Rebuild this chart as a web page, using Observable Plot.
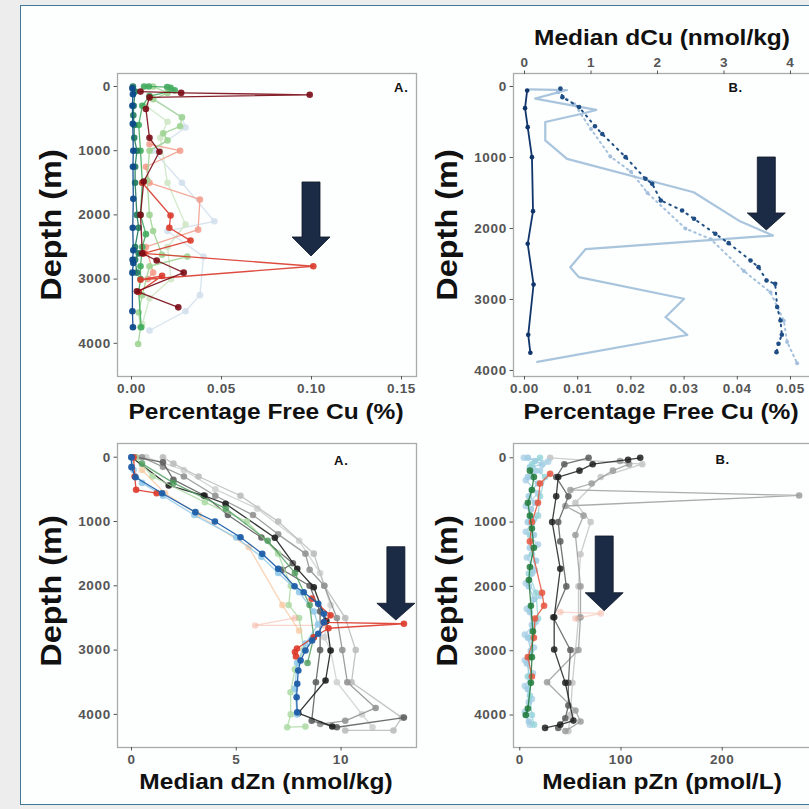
<!DOCTYPE html>
<html><head><meta charset="utf-8">
<script src="https://cdn.jsdelivr.net/npm/d3@7"></script>
<script src="https://cdn.jsdelivr.net/npm/@observablehq/plot@0.6"></script>
<style>
html,body{margin:0;padding:0;background:#ededee;}
#page{position:relative;width:809px;height:809px;overflow:hidden;background:#ededee;font-family:"Liberation Sans",Arial,sans-serif;}
#frame{position:absolute;left:20px;top:5px;width:800px;height:798px;border:1.5px solid #3f7896;background:#fdfefe;}
.panel{position:absolute;}
.lab{position:absolute;font-weight:bold;color:#111;white-space:nowrap;line-height:1;}
.xlab{font-size:21.5px;transform:translate(-50%,-50%) scaleX(1.14);}
.ylab{font-size:29px;transform:translate(-50%,-50%) rotate(-90deg) scaleX(1.12);}
</style></head><body>
<div id="page"><div id="frame"></div></div>
<script>
// ---------- shared ticks ----------
const depthTicks = [0, 1000, 2000, 3000, 4000];
const A_xTicks = [0, 0.05, 0.10, 0.15];
const B_xTicks = [0, 0.01, 0.02, 0.03, 0.04, 0.05];
const B_dCuTicks = [0, 1, 2, 3, 4];
const B_dCuPerPct = 80;          // secondary axis: dCu (nmol/kg) per % free Cu
const C_xTicks = [0, 5, 10];
const D_xTicks = [0, 100, 200];

// ---------- Panel A: [depth (m), % free Cu] ----------
const A_paleBlue = [[150,0.010],[480,0.028],[640,0.030],[1000,0.012],[1500,0.028],[2100,0.046],[2250,0.020],[2650,0.040],[3250,0.038],[3500,0.030],[3800,0.010]];
const A_paleGreen = [[300,0.008],[550,0.020],[800,0.016],[1500,0.020],[2150,0.030],[2500,0.020],[3000,0.022],[3300,0.010],[3700,0.006]];
const A_lightRed = [[900,0.010],[1000,0.027],[1250,0.008],[1500,0.010],[1760,0.038],[2230,0.037],[2500,0.008],[2900,0.012],[3000,0.009]];
const A_lightGreen = [[0,0.012],[100,0.020],[200,0.012],[480,0.028],[620,0.027],[730,0.0176],[840,0.020],[1000,0.010],[1460,0.0087],[2000,0.010],[2250,0.012],[2620,0.017],[2650,0.031],[2800,0.010],[3250,0.006],[3520,0.004],[3750,0.005],[4010,0.0037]];
const A_green = [[0,0.007],[0,0.0096],[10,0.0198],[20,0.0217],[60,0.024],[150,0.010],[300,0.006],[600,0.004],[1000,0.005],[1500,0.006],[2000,0.005],[2300,0.008],[2500,0.006],[2800,0.005],[3000,0.005],[3200,0.004],[3750,0.0054]];
const A_teal = [[0,0.0008],[80,0.002],[300,0.0012],[450,0.001],[600,0.0015],[800,0.0015],[1000,0.003],[1250,0.002],[1500,0.002],[2000,0.003],[2200,0.004],[2500,0.002],[2600,0.004],[2700,0.002],[2900,0.003]];
const A_red = [[1500,0.006],[2010,0.0217],[2200,0.021],[2400,0.0328],[2600,0.0068],[2800,0.101],[3010,0.005],[2950,0.017],[3200,0.004]];
const A_darkRed = [[80,0.005],[100,0.0276],[130,0.099],[170,0.010],[350,0.008],[800,0.010],[1017,0.0155],[1480,0.0068],[2000,0.005],[2600,0.006],[2710,0.014],[2900,0.029],[3190,0.003],[3440,0.026]];
const A_navy = [[30,0.0005],[120,0.0008],[300,0.0005],[580,0.0007],[1000,0.001],[1250,0.0008],[1750,0.001],[2200,0.0007],[2550,0.001],[2700,0.0006],[2750,0.001],[2900,0.0005],[3500,0.0005],[3750,0.0008]];
const A_arrow = [0.10, 1495, 2352, 2648];   // x, shaft top, head base, tip (depth)

// ---------- Panel B ----------
const B_freeCuLine = [[40,0.001],[50,0.008],[80,0.0065],[170,0.002],[330,0.0135],[380,0.011],[500,0.0039],[760,0.0039],[1020,0.008],[1490,0.0318],[1890,0.0403],[2100,0.0467],[2290,0.0115],[2545,0.0086],[2685,0.0102],[2990,0.030],[3250,0.0265],[3500,0.0306],[3880,0.0024]];
const B_freeCuMedian = [[56,0.0005],[305,0.0001],[573,0.0006],[995,0.0014],[1756,0.0016],[2216,0.0006],[2789,0.0017],[3498,0.0007],[3751,0.0011]];
const B_dCuLight = [[80,0.50],[250,0.75],[600,1.00],[985,1.29],[1200,1.60],[1500,1.85],[2000,2.42],[2150,2.80],[2600,3.30],[2900,3.70],[3300,3.90],[3600,3.95],[3897,4.10]];
const B_dCu = [[30,0.54],[150,0.57],[290,0.82],[560,1.06],[670,1.17],[995,1.52],[1300,1.82],[1370,1.92],[1605,2.05],[1746,2.37],[1864,2.55],[2075,2.87],[2207,3.07],[2451,3.40],[2545,3.52],[2732,3.64],[2779,3.77],[3107,3.80],[3296,3.85],[3497,3.87],[3624,3.82],[3742,3.79]];
const B_arrow = [0.04555, 1000, 1789, 2028];

// ---------- Panel C: [depth, dZn] ----------
const C_lgray2 = [[0,0.7],[200,2.5],[500,4.0],[800,6.0],[1300,8.0],[1800,9.0],[2300,9.5],[2800,9.2],[3000,9.5],[3500,9.8],[4000,11.0],[4200,11.5]];
const C_lgray = [[0,1.5],[100,2.0],[300,3.2],[600,5.2],[1000,7.0],[1500,8.7],[2000,9.2],[2500,10.2],[3000,10.7],[3500,10.5],[4050,12.9],[4250,12.5],[4250,10.2]];
const C_gray = [[0,0.5],[150,1.5],[300,2.5],[600,4.0],[900,5.8],[1200,7.0],[1500,8.3],[1750,8.5],[2000,9.2],[2500,9.8],[3000,10.06],[3500,10.3],[3900,11.65],[4100,10.2],[4150,9.0]];
const C_dgray = [[0,0.2],[80,1.5],[350,2.0],[600,3.5],[900,4.6],[1250,6.2],[1650,7.7],[1750,7.2],[2000,8.5],[2400,9.0],[3000,9.0],[3500,8.8],[4100,8.6],[4200,9.8],[4050,13.0]];
const C_black = [[0,0],[440,1.78],[596,3.45],[725,4.49],[1253,6.84],[1736,7.91],[2022,8.7],[2550,9.3],[3006,9.5],[3473,9.26],[3981,7.96],[4188,9.58]];
const C_lightGreen = [[0,0.2],[300,1.0],[700,3.5],[1000,5.5],[1500,7.0],[2000,7.6],[2300,7.5],[2500,8.0],[3000,8.22],[3300,7.8],[3655,7.59],[4000,7.6],[4199,7.43],[4190,8.3]];
const C_orange = [[200,0.5],[560,1.6],[900,3.2],[1400,5.6],[2300,7.2],[2700,8.0]];
const C_lightRed = [[2500,7.8],[2617,5.9],[2617,9.2]];
const C_lightBlue = [[0,0],[200,0.1],[400,0.5],[600,1.5],[900,3.0],[1250,5.0],[1550,6.2],[1800,7.0],[2100,8.0],[2400,8.7],[2600,8.9],[2900,8.3],[3200,7.9],[3600,7.8],[4000,7.9]];
const C_green = [[100,0.5],[400,2.0],[800,4.5],[1300,6.5],[1800,7.8],[2300,8.5],[2800,8.7],[3200,8.4]];
const C_redTop = [[0,0.1],[300,0.15],[507,0.22],[560,1.2]];
const C_red = [[2200,8.6],[2460,9.5],[2570,9.18],[2590,13.0],[2660,9.4],[2800,8.7],[2975,7.9],[3030,7.8],[3100,7.85]];
const C_blue = [[0,0],[155,0],[311,0.19],[560,1.46],[855,3.05],[1000,3.98],[1244,5.2],[1503,6.24],[1736,7.0],[2006,7.78],[2100,8.22],[2280,8.91],[2436,9.18],[2566,9.18],[2747,8.91],[2851,8.62],[3006,8.3],[3162,8.07],[3317,7.96],[3524,7.91],[3733,7.88],[3966,7.91]];
const C_arrow = [12.64, 1400, 2280, 2540];

// ---------- Panel D: [depth, pZn] ----------
const D_lblue = [[0,8],[50,15],[100,22],[150,10],[200,14],[300,8],[400,18],[500,12],[600,9],[700,15],[800,11],[1000,8],[1200,14],[1400,10],[1600,16],[1800,12],[2000,9],[2200,14],[2400,10],[2600,12],[2800,8],[3000,11],[3200,7],[3400,10],[3600,8],[3800,9],[4000,6],[4100,9]];
const D_lblue2 = [[0,20],[100,12],[300,25],[600,20],[900,18],[1200,10],[1500,12],[1800,9],[2100,16],[2500,18],[2800,12],[3100,10],[3400,8],[3700,10],[4000,12],[4150,14]];
const D_lblue3 = [[0,4],[60,28],[200,20],[350,6],[550,18],[750,6],[950,14],[1150,6],[1350,18],[1550,7],[1750,15],[1950,6],[2150,20],[2350,7],[2550,16],[2750,5],[2950,14],[3150,5],[3350,13],[3550,5],[3750,12],[3950,5],[4150,10]];
const D_lightRed = [[2400,40],[2420,80],[2500,55]];
const D_red = [[250,30],[400,20],[700,18],[1000,12],[1300,10],[2100,22],[2300,24],[2500,15],[2800,14],[3100,8],[3400,12]];
const D_green = [[200,10],[300,14],[500,12],[700,8],[900,10],[1100,12],[1400,14],[1700,10],[1900,9],[2300,11],[2700,13],[3100,12],[3500,11],[3900,8],[4000,6]];
const D_lgray = [[0,30],[100,121],[300,80],[700,55],[1000,70],[1500,60],[2000,58],[2500,58],[3000,55],[3500,52],[4000,50],[4250,48]];
const D_gray = [[50,99],[100,108],[200,92],[400,71],[500,50],[586,276],[750,45],[900,63],[1200,55],[2000,60],[2480,60],[2990,58],[3490,27],[3930,55],[4100,60],[4250,45]];
const D_dgray = [[0,68],[100,44],[300,36],[600,48],[1000,38],[1300,40],[2000,46],[2480,33],[2990,50],[3500,48],[3852,48],[4050,45],[4200,38]];
const D_black = [[0,119],[30,107],[100,72],[200,59],[300,38],[600,36],[1000,32],[1727,40],[2480,34],[2982,34],[3500,45],[4087,53],[4150,40],[4200,25]];
const D_arrow = [83.9, 1224, 2106, 2386];

// ---------- styles (kept apart from data) ----------
const A_layers = [
  [A_paleBlue, "#d3e0ec", 0.9], [A_paleGreen, "#cfe8c6", 0.9], [A_lightRed, "#f29a88", 0.85],
  [A_lightGreen, "#9fd494", 0.9], [A_green, "#41ab5d", 0.9], [A_teal, "#1f7a5c", 0.9],
  [A_red, "#d93a2b", 0.9], [A_darkRed, "#7a0b16", 0.9], [A_navy, "#0d4a8c", 0.95]
];
const C_layers = [
  [C_lgray2, "#d2d2d2", 0.9], [C_lgray, "#bdbdbd", 0.9], [C_gray, "#939393", 0.9], [C_dgray, "#606060", 0.9],
  [C_black, "#1e1e1e", 0.9], [C_lightGreen, "#addba5", 0.85], [C_orange, "#f7c59a", 0.7], [C_lightRed, "#f3a58f", 0.45],
  [C_lightBlue, "#8ec8e8", 0.85], [C_green, "#4b9a5a", 0.8], [C_redTop, "#dd3a2a", 0.9], [C_red, "#dd3a2a", 0.9], [C_blue, "#1d5ea8", 0.95]
];
const D_layers = [
  [D_lgray, "#c6c6c6", 0.9], [D_gray, "#9c9c9c", 0.85], [D_dgray, "#5a5a5a", 0.85], [D_black, "#1e1e1e", 0.85],
  [D_lblue3, "#a9cfe6", 0.8], [D_lblue, "#9fcbe3", 0.85], [D_lblue2, "#94d3d8", 0.8], [D_lightRed, "#f6b4a0", 0.5], [D_red, "#e5533d", 0.85], [D_green, "#1e7a3a", 0.85]
];

function arrowMark(arrow) {
  return (index, scales) => {
    const [xv, top, base, tip] = arrow;
    const cx = scales.x(xv), y0 = scales.y(top), y1 = scales.y(base), y2 = scales.y(tip);
    const sw = 9, hw = 19;
    const d = `M${cx - sw},${y0}H${cx + sw}V${y1}H${cx + hw}L${cx},${y2}L${cx - hw},${y1}H${cx - sw}Z`;
    return d3.create("svg:path").attr("d", d).attr("fill", "#1b2b45").attr("stroke", "#0e1626").attr("stroke-width", 0.8).node();
  };
}

function layerMarks(layers, r, lw, factor = 1) {
  const marks = [];
  for (const [data, color, op] of layers) {
    const rows = data.map(([depth, v]) => ({depth, v: v * factor}));
    marks.push(Plot.line(rows, {x: "v", y: "depth", stroke: color, strokeOpacity: op, strokeWidth: lw}));
    marks.push(Plot.dot(rows, {x: "v", y: "depth", r, fill: color, fillOpacity: op, stroke: "none"}));
  }
  return marks;
}

function makePanel(o) {
  const chart = Plot.plot({
    width: o.width, height: o.height,
    marginTop: o.mt, marginRight: o.mr, marginBottom: o.mb, marginLeft: o.ml,
    x: {domain: o.xDomain},
    y: {domain: o.yDomain, reverse: true},
    style: {fontFamily: "'Liberation Sans', Arial, sans-serif", fontSize: "13.5px", fontWeight: "bold", color: "#555", background: "transparent", overflow: "visible", letterSpacing: "0.7px"},
    marks: [
      Plot.frame({stroke: "#aaaaaa", strokeWidth: 1.3}),
      Plot.axisY({ticks: depthTicks, tickFormat: d => String(d), tickSize: 3.5, tickPadding: 3, label: null}),
      Plot.axisX({ticks: o.xTicks, tickFormat: o.xFormat, tickSize: 3.5, tickPadding: 3, label: null}),
      ...(o.extra || []),
      arrowMark(o.arrow),
      Plot.text([o.tag], {frameAnchor: o.tagAnchor, dx: o.tagDx, dy: o.tagDy, text: d => d, fill: "#111", fontSize: 13, fontWeight: "bold", lineAnchor: "middle", textAnchor: o.tagTextAnchor})
    ]
  });
  chart.classList.add("panel");
  chart.style.left = o.left + "px";
  chart.style.top = o.top + "px";
  document.getElementById("page").appendChild(chart);
}

const f2 = d3.format(".2f");

makePanel({
  left: 30, top: 20, width: 390, height: 380, mt: 53, mr: 4, mb: 24, ml: 87,
  xDomain: [-0.00778, 0.15833], yDomain: [-202, 4517], xTicks: A_xTicks, xFormat: f2,
  extra: layerMarks(A_layers, 3.3, 1.3), arrow: A_arrow,
  tag: "A.", tagAnchor: "top-right", tagDx: -8, tagDy: 14, tagTextAnchor: "end"
});

makePanel({
  left: 430, top: 20, width: 382, height: 380, mt: 53, mr: 0, mb: 24, ml: 83,
  xDomain: [-0.00207, 0.05414], yDomain: [-183, 4085], xTicks: B_xTicks, xFormat: f2,
  extra: [
    Plot.axisX({anchor: "top", ticks: B_dCuTicks.map(v => v / B_dCuPerPct), tickFormat: d => String(Math.round(d * B_dCuPerPct)), tickSize: 3.5, tickPadding: 3, label: null}),
    Plot.line(B_freeCuLine.map(([depth, v]) => ({depth, v})), {x: "v", y: "depth", stroke: "#a9c5dd", strokeWidth: 2.2}),
    Plot.line(B_dCuLight.map(([depth, v]) => ({depth, v: v / B_dCuPerPct})), {x: "v", y: "depth", stroke: "#a4c0dc", strokeWidth: 2, strokeDasharray: "1.5,4", strokeLinecap: "round"}),
    Plot.dot(B_dCuLight.map(([depth, v]) => ({depth, v: v / B_dCuPerPct})), {x: "v", y: "depth", r: 2, fill: "#a4c0dc"}),
    Plot.line(B_dCu.map(([depth, v]) => ({depth, v: v / B_dCuPerPct})), {x: "v", y: "depth", stroke: "#1f4e85", strokeWidth: 2, strokeDasharray: "1.5,5", strokeLinecap: "round"}),
    Plot.dot(B_dCu.map(([depth, v]) => ({depth, v: v / B_dCuPerPct})), {x: "v", y: "depth", r: 2.3, fill: "#1f4e85"}),
    Plot.line(B_freeCuMedian.map(([depth, v]) => ({depth, v})), {x: "v", y: "depth", stroke: "#10356b", strokeWidth: 1.8}),
    Plot.dot(B_freeCuMedian.map(([depth, v]) => ({depth, v})), {x: "v", y: "depth", r: 2.3, fill: "#10356b"})
  ],
  arrow: B_arrow,
  tag: "B.", tagAnchor: "top-left", tagDx: 215, tagDy: 14, tagTextAnchor: "start"
});

makePanel({
  left: 30, top: 420, width: 390, height: 380, mt: 23, mr: 4, mb: 53, ml: 87,
  xDomain: [-0.668, 13.6], yDomain: [-213, 4515], xTicks: C_xTicks, xFormat: d => String(d),
  extra: layerMarks(C_layers, 3.3, 1.3), arrow: C_arrow,
  tag: "A.", tagAnchor: "top-right", tagDx: -68, tagDy: 17, tagTextAnchor: "end"
});

makePanel({
  left: 430, top: 420, width: 382, height: 380, mt: 23, mr: 0, mb: 53, ml: 83,
  xDomain: [-6.2, 289.2], yDomain: [-222, 4505], xTicks: D_xTicks, xFormat: d => String(d),
  extra: layerMarks(D_layers, 3.3, 1.3), arrow: D_arrow,
  tag: "B.", tagAnchor: "top-left", tagDx: 202, tagDy: 16, tagTextAnchor: "start"
});

// axis titles
const labels = [
  ["Depth (m)", 51, 225, "ylab"], ["Depth (m)", 447, 225, "ylab"],
  ["Depth (m)", 51, 591, "ylab"], ["Depth (m)", 447, 591, "ylab"],
  ["Percentage Free Cu (%)", 266, 413, "xlab"], ["Percentage Free Cu (%)", 661, 413, "xlab"],
  ["Median dCu (nmol/kg)", 662, 39, "xlab"],
  ["Median dZn (nmol/kg)", 266, 783, "xlab"], ["Median pZn (pmol/L)", 662, 783, "xlab"]
];
for (const [t, x, y, cls] of labels) {
  const el = document.createElement("div");
  el.className = "lab " + cls;
  el.textContent = t;
  el.style.left = x + "px";
  el.style.top = y + "px";
  document.getElementById("page").appendChild(el);
}
</script>
</body></html>
